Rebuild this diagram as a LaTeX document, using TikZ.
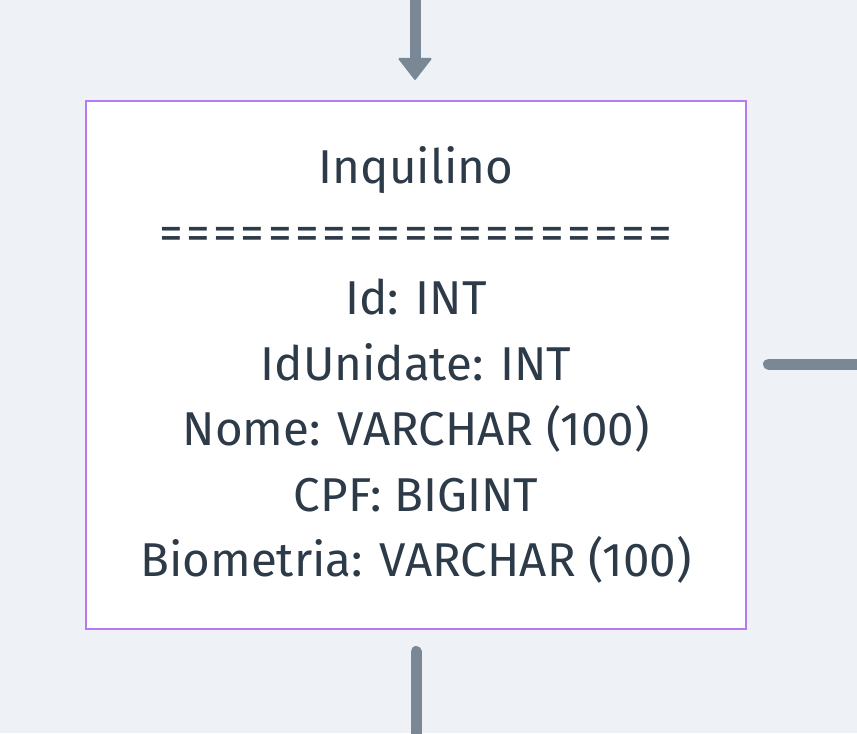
\documentclass[tikz,border=0pt]{standalone}
\usepackage{fontspec}
\setmainfont{Fira Sans}
\usetikzlibrary{arrows.meta}
\definecolor{grund}{HTML}{EEF2F6}
\definecolor{rand}{HTML}{B879F0}
\definecolor{linie}{HTML}{7A8896}
\definecolor{schrift}{HTML}{2D3A48}
\newcommand\trennlinie{\foreach \i in {1,...,18}{=\kern2.6pt}=}
\tikzset{
    tabelle/.style = {draw=rand, line width=1.7pt, fill=white, align=center,
                      minimum width=495pt, minimum height=396pt, inner sep=0pt,
                      text=schrift, font=\fontsize{35.6}{49.1}\selectfont},
    link/.style    = {draw=linie, line width=8.25pt, line cap=round},
    pfeil/.style   = {link, -{Triangle[length=17pt, width=26pt, line width=1.5pt, round]}}
}

\begin{document}
\begin{tikzpicture}[x=0.75pt, y=-0.75pt]

    % --- Hintergrund ---
    \fill[grund] (0,0) rectangle (857,733);
    \useasboundingbox (0,0) rectangle (857,733);

    % --- Tabelle ---
    \node[tabelle] (inq) at (416,365)
        {Inquilino\\ \trennlinie\\ Id: INT\\ IdUnidate: INT\\
         Nome: VARCHAR (100)\\ CPF: BIGINT\\ Biometria: VARCHAR (100)};

    % --- Verbindungen ---
    \coordinate (oben)  at (415,-10);
    \coordinate (rechts) at (870,364);
    \coordinate (unten) at (416,745);

    \draw[pfeil] (oben) -- (oben |- inq.north) [shorten >=15pt];
    \draw[link, shorten <=16pt] (inq.east |- rechts) -- (rechts);
    \draw[link, shorten <=16pt] (unten |- inq.south) -- (unten);

\end{tikzpicture}
\end{document}
